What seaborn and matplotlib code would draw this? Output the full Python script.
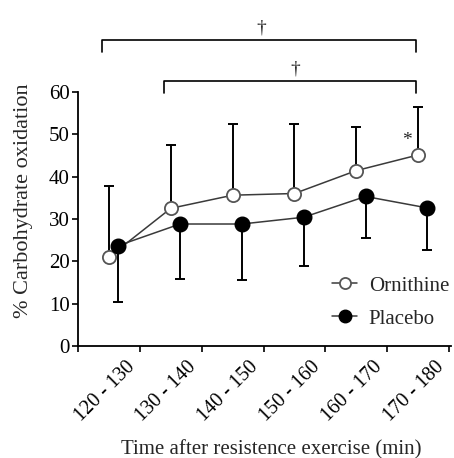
import numpy as np
import pandas as pd
import matplotlib
matplotlib.use("Agg")
import matplotlib.pyplot as plt
from matplotlib.lines import Line2D
from matplotlib.transforms import ScaledTranslation
import seaborn as sns

# Interval midpoints (min) and labels
intervals = ["120 - 130", "130 - 140", "140 - 150", "150 - 160", "160 - 170", "170 - 180"]
orn_time = [125, 135, 145, 155, 165, 175]
pla_time = [126.5, 136.5, 146.5, 156.5, 166.5, 176.5]

# % carbohydrate oxidation: means and error-bar ends
orn_mean = [21.0, 32.5, 35.6, 36.0, 41.4, 45.1]
orn_upper = [37.8, 47.4, 52.5, 52.5, 51.8, 56.5]
pla_mean = [23.7, 28.8, 28.8, 30.4, 35.3, 32.6]
pla_lower = [10.4, 15.9, 15.6, 18.9, 25.5, 22.7]

sns.set_theme(style="ticks")
plt.rcParams["font.family"] = ["Liberation Serif", "DejaVu Serif"]

df = pd.DataFrame({
    "time": orn_time + pla_time,
    "value": orn_mean + pla_mean,
    "group": ["Ornithine"] * 6 + ["Placebo"] * 6,
})

fig = plt.figure(figsize=(4.54, 4.58), dpi=100)
ax = fig.add_axes([0.172, 0.2445, 0.821, 0.555])

line_col = "#3a3a3a"

# one-sided error bars (up for Ornithine, down for Placebo)
ax.errorbar(orn_time, orn_mean,
            yerr=[np.zeros(6), np.array(orn_upper) - np.array(orn_mean)],
            fmt="none", ecolor="black", elinewidth=1.4, capsize=3.5,
            capthick=1.4, zorder=1)
ax.errorbar(pla_time, pla_mean,
            yerr=[np.array(pla_mean) - np.array(pla_lower), np.zeros(6)],
            fmt="none", ecolor="black", elinewidth=1.4, capsize=3.5,
            capthick=1.4, zorder=1)

sns.lineplot(data=df[df.group == "Ornithine"], x="time", y="value", ax=ax,
             color=line_col, linewidth=1.1, marker="o", markersize=9.5,
             markerfacecolor="white", markeredgecolor="#555555",
             markeredgewidth=1.3, zorder=3, legend=False)
sns.lineplot(data=df[df.group == "Placebo"], x="time", y="value", ax=ax,
             color=line_col, linewidth=1.1, marker="o", markersize=10.5,
             markerfacecolor="black", markeredgecolor="black",
             markeredgewidth=1.0, zorder=4, legend=False)

ax.set_xlim(120, 180.3)
ax.set_ylim(0, 60)
ax.set_yticks(np.arange(0, 61, 10))
ax.set_xticks(np.arange(120, 181, 10))
ax.set_xticklabels([""] + intervals, rotation=45, ha="right", va="center",
                   rotation_mode="anchor", fontsize=14.5)
ax.tick_params(axis="y", labelsize=15, length=4, width=1.2, direction="out",
               pad=2, colors="black")
ax.tick_params(axis="x", length=4.5, width=1.2, direction="out", pad=3,
               colors="black")
# nudge the slanted interval labels down-left, away from the tick marks
shift = ScaledTranslation(-0.08, -0.08, fig.dpi_scale_trans)
for lbl in ax.get_xticklabels():
    lbl.set_transform(lbl.get_transform() + shift)

for s in ["top", "right"]:
    ax.spines[s].set_visible(False)
for s in ["left", "bottom"]:
    ax.spines[s].set_linewidth(1.3)
    ax.spines[s].set_color("black")

ax.set_xlabel("Time after resistence exercise (min)", fontsize=15)
ax.set_ylabel("% Carbohydrate oxidation", fontsize=16)
ax.xaxis.set_label_coords(0.518, -0.37)
ax.yaxis.set_label_coords(-0.121, 0.571)

# significance brackets above the plot
br_kw = dict(color="black", lw=1.2, clip_on=False)
ax.plot([123.9, 123.9, 174.7, 174.7], [69.5, 72.2, 72.2, 69.5], **br_kw)
ax.plot([133.9, 133.9, 174.7, 174.7], [59.8, 62.6, 62.6, 59.8], **br_kw)
ax.text(149.6, 73.0, "\u2020", ha="center", va="bottom", fontsize=14,
        clip_on=False)
ax.text(155.2, 63.4, "\u2020", ha="center", va="bottom", fontsize=14,
        clip_on=False)
ax.text(173.2, 48.4, "*", ha="center", va="center", fontsize=14)

handles = [
    Line2D([], [], color=line_col, lw=1.1, marker="o", markersize=8,
           markerfacecolor="white", markeredgecolor="#555555",
           markeredgewidth=1.3),
    Line2D([], [], color=line_col, lw=1.1, marker="o", markersize=9,
           markerfacecolor="black", markeredgecolor="black"),
]
ax.legend(handles, ["Ornithine", "Placebo"], loc="center left",
          bbox_to_anchor=(0.682, 0.172), frameon=False, fontsize=15,
          borderaxespad=0, borderpad=0,
          handlelength=1.2, handletextpad=0.55, labelspacing=0.65)

fig.savefig("out.png", dpi=100, facecolor="white")
